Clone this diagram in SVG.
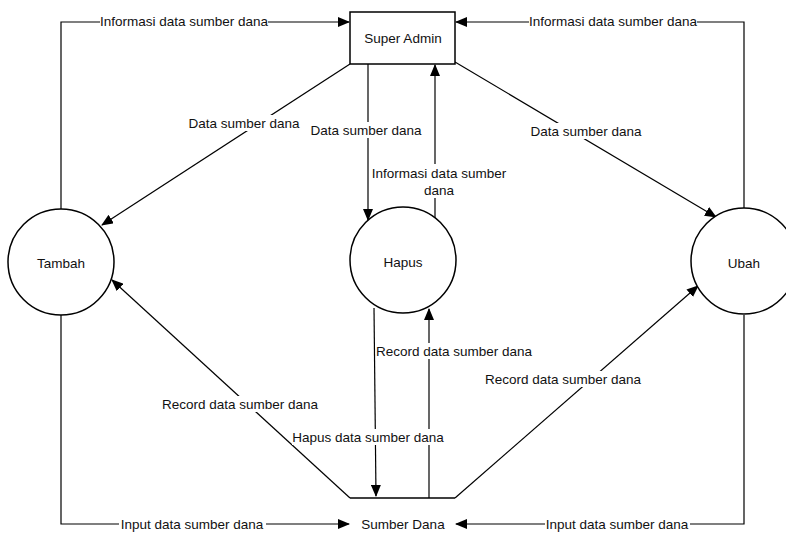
<svg xmlns="http://www.w3.org/2000/svg" width="786" height="548" viewBox="0 0 786 548">
<style>
.ln{fill:none;stroke:#000;stroke-width:1.2}
.nd{fill:#fff;stroke:#000;stroke-width:1.5}
.t{font-family:"Liberation Sans",Arial,sans-serif;font-size:13.5px;fill:#111;text-anchor:middle;dominant-baseline:central}
.bg{fill:#fff}
</style>
<defs>
<marker id="ar" markerWidth="12" markerHeight="10" refX="11" refY="5" orient="auto" markerUnits="userSpaceOnUse">
<path d="M0,0 L12,5 L0,10 Z" fill="#000"/>
</marker>
</defs>
<rect width="786" height="548" fill="#fff"/>
<g id="connectors">
<path class="ln" d="M61,209 V22 H349" marker-end="url(#ar)"/>
<path class="ln" d="M744,208 V22 H456" marker-end="url(#ar)"/>
<path class="ln" d="M350,64 L102,225" marker-end="url(#ar)"/>
<path class="ln" d="M368,64 V220" marker-end="url(#ar)"/>
<path class="ln" d="M435,220 V65" marker-end="url(#ar)"/>
<path class="ln" d="M455,62 L716,217" marker-end="url(#ar)"/>
<path class="ln" d="M61,315 V524 H349" marker-end="url(#ar)"/>
<path class="ln" d="M744,315 V524 H456" marker-end="url(#ar)"/>
<path class="ln" d="M350,498 L112,280" marker-end="url(#ar)"/>
<path class="ln" d="M374,308 L376,496" marker-end="url(#ar)"/>
<path class="ln" d="M429,498 V309" marker-end="url(#ar)"/>
<path class="ln" d="M455,498 L698,286" marker-end="url(#ar)"/>
<g id="labels">
<rect class="bg" x="100" y="14" width="168" height="16"/><text class="t" x="184" y="21">Informasi data sumber dana</text>
<rect class="bg" x="529" y="14" width="168" height="16"/><text class="t" x="613" y="21">Informasi data sumber dana</text>
<rect class="bg" x="189" y="115" width="111" height="16"/><text class="t" x="244" y="123">Data sumber dana</text>
<rect class="bg" x="311" y="122" width="111" height="16"/><text class="t" x="366" y="130">Data sumber dana</text>
<rect class="bg" x="370" y="164" width="138" height="34"/><text class="t" x="439" y="173">Informasi data sumber</text><text class="t" x="439" y="190">dana</text>
<rect class="bg" x="531" y="123" width="111" height="16"/><text class="t" x="586" y="131">Data sumber dana</text>
<rect class="bg" x="162" y="396" width="156" height="16"/><text class="t" x="240" y="404">Record data sumber dana</text>
<rect class="bg" x="292" y="429" width="152" height="16"/><text class="t" x="368" y="437">Hapus data sumber dana</text>
<rect class="bg" x="377" y="343" width="155" height="16"/><text class="t" x="454" y="351">Record data sumber dana</text>
<rect class="bg" x="486" y="371" width="155" height="16"/><text class="t" x="563" y="379">Record data sumber dana</text>
<rect class="bg" x="119" y="516" width="147" height="16"/><text class="t" x="192" y="524">Input data sumber dana</text>
<rect class="bg" x="545" y="516" width="145" height="16"/><text class="t" x="617" y="524">Input data sumber dana</text>
</g>
</g>
<g id="super-admin"><rect class="nd" x="350" y="12" width="105" height="52"/><text class="t" x="403" y="38">Super Admin</text></g>
<g id="tambah"><circle class="nd" cx="61" cy="262" r="53"/><text class="t" x="61" y="263">Tambah</text></g>
<g id="hapus"><circle class="nd" cx="403" cy="260" r="53"/><text class="t" x="403" y="262">Hapus</text></g>
<g id="ubah"><circle class="nd" cx="744" cy="261" r="53"/><text class="t" x="744" y="263">Ubah</text></g>
<g id="sumber-dana"><path class="ln" d="M350,498 H455" style="stroke-width:1.5"/><text class="t" x="403" y="524">Sumber Dana</text></g>
</svg>
